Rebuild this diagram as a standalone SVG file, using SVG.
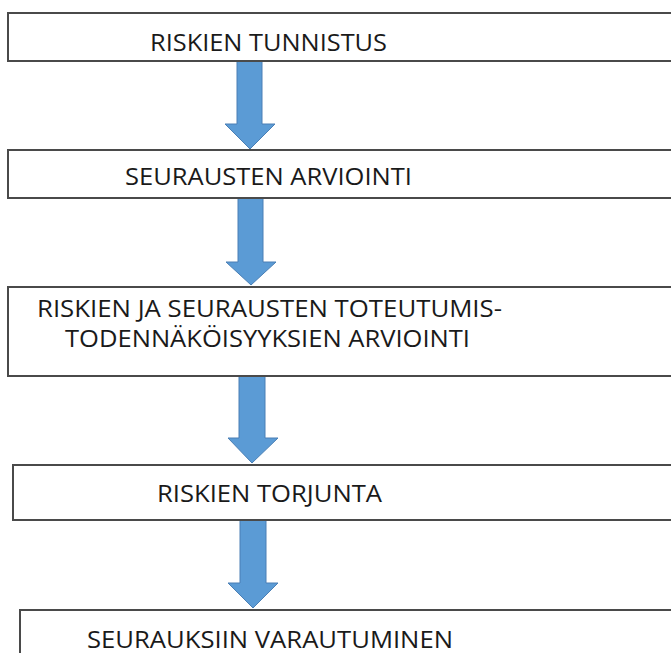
<svg xmlns="http://www.w3.org/2000/svg" width="671" height="653" viewBox="0 0 671 653">
<style>
.box{fill:#ffffff;stroke:#4a4a4a;stroke-width:2}
.lbl{font-family:"Open Sans","Noto Sans","Liberation Sans",sans-serif;font-size:24px;fill:#1a1a1a;text-anchor:middle}
.arr{fill:#5b9bd5;stroke:#4a7fb5;stroke-width:1}
</style>
<rect width="671" height="653" fill="#ffffff"/>
<g id="connectors">
<path class="arr" d="M237,61 L262,61 L262,124 L275,124 L250,149 L225,124 L237,124 Z"/>
<path class="arr" d="M238,198 L263,198 L263,262 L276,262 L251,285 L226,262 L238,262 Z"/>
<path class="arr" d="M239,376 L265,376 L265,438 L278,438 L252,463 L228,438 L239,438 Z"/>
<path class="arr" d="M240,520 L266,520 L266,583 L278,583 L253,608 L228,583 L240,583 Z"/>
</g>
<g id="n1">
<rect class="box" x="8" y="13" width="680" height="48"/>
<text class="lbl" x="268.5" y="51" textLength="237" lengthAdjust="spacingAndGlyphs">RISKIEN TUNNISTUS</text>
</g>
<g id="n2">
<rect class="box" x="8" y="150" width="680" height="48"/>
<text class="lbl" x="268.5" y="185" textLength="287" lengthAdjust="spacingAndGlyphs">SEURAUSTEN ARVIOINTI</text>
</g>
<g id="n3">
<rect class="box" x="8" y="287" width="680" height="89"/>
<text class="lbl" x="269.5" y="317" textLength="465" lengthAdjust="spacingAndGlyphs">RISKIEN JA SEURAUSTEN TOTEUTUMIS-</text>
<text class="lbl" x="267.5" y="347" textLength="405" lengthAdjust="spacingAndGlyphs">TODENNÄKÖISYYKSIEN ARVIOINTI</text>
</g>
<g id="n4">
<rect class="box" x="13" y="465" width="680" height="55"/>
<text class="lbl" x="269.5" y="502" textLength="225" lengthAdjust="spacingAndGlyphs">RISKIEN TORJUNTA</text>
</g>
<g id="n5">
<rect class="box" x="20" y="610" width="680" height="60"/>
<text class="lbl" x="270" y="648" textLength="366" lengthAdjust="spacingAndGlyphs">SEURAUKSIIN VARAUTUMINEN</text>
</g>
</svg>
